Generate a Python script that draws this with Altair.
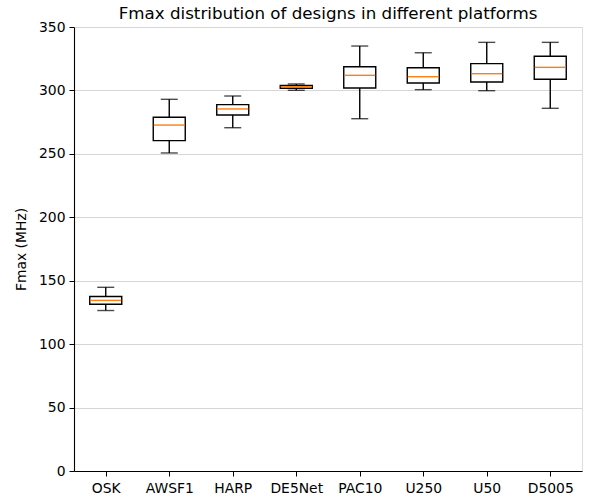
import altair as alt
import pandas as pd

categories = ["OSK", "AWSF1", "HARP", "DE5Net", "PAC10", "U250", "U50", "D5005"]
whisker_low = [126.5, 250.7, 270.6, 300.1, 277.7, 300.6, 299.8, 285.9]
q1 = [131.5, 260.4, 280.6, 301.7, 301.9, 305.8, 306.6, 308.8]
median = [134.5, 272.7, 285.4, 302.9, 311.9, 310.8, 313.2, 318.2]
q3 = [137.5, 278.8, 288.8, 304.0, 318.7, 317.9, 321.1, 326.9]
whisker_high = [144.8, 293.0, 295.6, 305.1, 335.0, 329.7, 337.9, 337.9]

df = pd.DataFrame({
    "cat": categories,
    "low": whisker_low,
    "q1": q1,
    "med": median,
    "q3": q3,
    "high": whisker_high,
})

FONT = "DejaVu Sans"
LW = 1.4

x = alt.X("cat:N", sort=categories, title=None,
          scale=alt.Scale(type="point", padding=0.5),
          axis=alt.Axis(labelAngle=0, labelFontSize=13.9, labelFont=FONT,
                        labelColor="black", tickColor="black", tickSize=5,
                        domainColor="black", domainWidth=1.1, grid=False,
                        labelPadding=5))
yscale = alt.Scale(domain=[0, 350], nice=False)
yaxis = alt.Axis(values=[0, 50, 100, 150, 200, 250, 300, 350],
                 title="Fmax (MHz)", titleFontSize=13.9, titleFont=FONT,
                 titleFontWeight="normal", titleColor="black", titlePadding=10,
                 labelFontSize=13.9, labelFont=FONT, labelColor="black",
                 tickColor="black", tickSize=5, domainColor="black",
                 domainWidth=1.1, grid=True, gridColor="#d6d6d6",
                 gridWidth=1, labelPadding=4)

base = alt.Chart(df).encode(x=x)

whisk_lo = base.mark_rule(color="black", strokeWidth=LW).encode(
    y=alt.Y("low:Q", scale=yscale, axis=yaxis), y2="q1:Q")
whisk_hi = base.mark_rule(color="black", strokeWidth=LW).encode(
    y=alt.Y("q3:Q", scale=yscale), y2="high:Q")
box = base.mark_bar(size=32, fillOpacity=0, stroke="black", strokeWidth=LW).encode(
    y=alt.Y("q1:Q", scale=yscale), y2="q3:Q")
cap_lo = base.mark_tick(size=17, thickness=LW, color="black").encode(
    y=alt.Y("low:Q", scale=yscale))
cap_hi = base.mark_tick(size=17, thickness=LW, color="black").encode(
    y=alt.Y("high:Q", scale=yscale))
med = base.mark_tick(size=31, thickness=1.4, color="#ff7f0e", opacity=1).encode(
    y=alt.Y("med:Q", scale=yscale))

chart = alt.layer(whisk_lo, whisk_hi, box, cap_lo, cap_hi, med).properties(
    width=508, height=444,
    title=alt.TitleParams("Fmax distribution of designs in different platforms",
                          fontSize=16.7, font=FONT, fontWeight="normal",
                          color="black", offset=0, baseline="alphabetic", dy=15.5),
    autosize=alt.AutoSizeParams(type="none"),
    padding={"left": 74, "top": 27, "right": 7, "bottom": 27},
).configure_view(stroke="black", strokeWidth=1.1).configure(background="white")

chart.save("out.html", embed_options={"renderer": "svg", "actions": False})
